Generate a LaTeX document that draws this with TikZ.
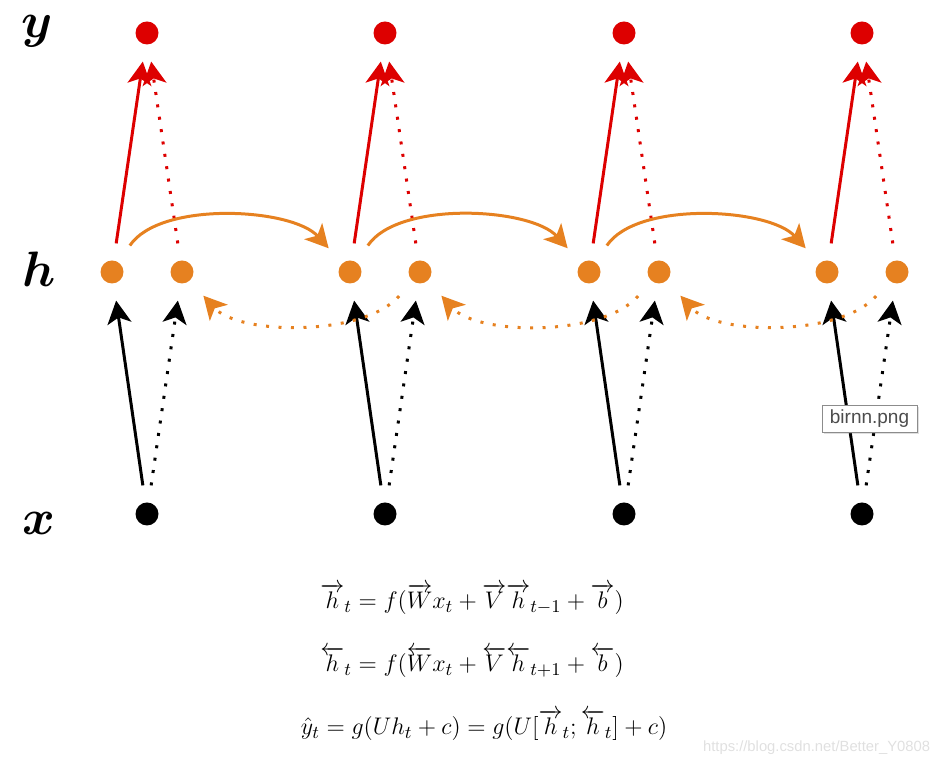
\documentclass[tikz,border=0pt]{standalone}
\usepackage{amsmath}
\usepackage{fontspec}
\setsansfont{Liberation Sans}
\usetikzlibrary{arrows.meta,shadows}
\definecolor{rnnred}{RGB}{221,0,0}
\definecolor{rnnorange}{RGB}{230,129,32}
\tikzset{
  unit/.style={circle, inner sep=0pt, minimum size=11.5pt},
  link/.style={-{Stealth[length=11.5pt,width=12pt,inset=3pt]}, line width=1.5pt, shorten <=8.5pt, shorten >=8.5pt},
  dots/.style={dash pattern=on 1.5pt off 4.75pt},
  letter/.style={anchor=base, font=\fontsize{29}{31}\selectfont\boldmath},
  eq/.style={anchor=base, font=\fontsize{13}{15}\selectfont}
}
\begin{document}
\begin{tikzpicture}[x=0.5pt, y=0.5pt]
\useasboundingbox (0,0) rectangle (949,764);
\node[letter] (ly) at (37,726) {$y$};
\node[letter] (lh) at (39,477) {$h$};
\node[letter] (lx) at (39,229) {$x$};
\foreach \i/\cx in {1/147,2/385,3/624,4/862} {
  \node[unit, fill=rnnred] (y\i) at (\cx,731) {};
  \node[unit, fill=rnnorange] (hf\i) at (\cx-35,492) {};
  \node[unit, fill=rnnorange] (hb\i) at (\cx+35,492) {};
  \node[unit, fill=black] (x\i) at (\cx,250) {};
  \draw[link] (x\i) -- (hf\i);
  \draw[link, dots] (x\i) -- (hb\i);
  \draw[link, rnnred] (hf\i) -- (y\i);
  \draw[link, rnnred, dots] (hb\i) -- (y\i);
}
\foreach \i [evaluate=\i as \j using int(\i+1)] in {1,2,3} {
  \draw[link, rnnorange, shorten <=10pt, shorten >=10pt] (hf\i) to[out=56, in=132, looseness=0.85] (hf\j);
  \draw[link, rnnorange, dots, shorten <=10pt, shorten >=10pt] (hb\j) to[out=-131, in=-48, looseness=0.85] (hb\i);
}
\node[eq] (e1) at (472,155) {$\overrightarrow{h}_t = f(\overrightarrow{W}x_t + \overrightarrow{V}\overrightarrow{h}_{t-1} + \overrightarrow{b})$};
\node[eq] (e2) at (472,92) {$\overleftarrow{h}_t = f(\overleftarrow{W}x_t + \overleftarrow{V}\overleftarrow{h}_{t+1} + \overleftarrow{b})$};
\node[eq] (e3) at (484,29) {$\hat{y}_t = g(Uh_t + c) = g(U[\overrightarrow{h}_t;\overleftarrow{h}_t] + c)$};
\node[anchor=base west, font=\sffamily\fontsize{7.4}{9}\selectfont, text=black!12] (mark) at (696,12) {https://blog.csdn.net/Better\_Y0808};
\node[draw=black!45, fill=white, drop shadow={shadow xshift=1pt, shadow yshift=-1pt, opacity=0.25}, minimum width=47.5pt, minimum height=13.5pt, inner sep=0pt, font=\sffamily\fontsize{9.5}{11}\selectfont, text=black!70] (tooltip) at (869.5,345.5) {birnn.png};
\end{tikzpicture}
\end{document}
